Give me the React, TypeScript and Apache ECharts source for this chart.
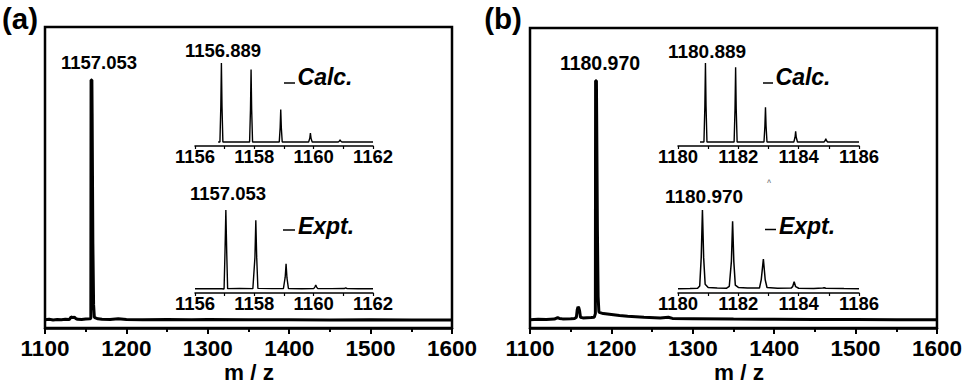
import React, { useEffect, useRef } from "react";
import * as echarts from "echarts";

const FONT = '"Liberation Sans", Arial, Helvetica, sans-serif';

// Main spectra [m/z, relative intensity]
const mainA: number[][] = [
  [1100, 0.4], [1105, 0.6], [1110, 0.3], [1115, 0.5], [1120, 0.4], [1125, 0.6], [1130, 0.5],
  [1132, 1.6], [1134, 1.3], [1136, 1.5], [1138, 0.9], [1140, 0.6], [1145, 0.5], [1150, 0.7],
  [1155, 0.8], [1156.3, 1.0], [1156.6, 100], [1157.6, 100], [1157.9, 86], [1158.5, 86],
  [1158.8, 32], [1159.4, 32], [1159.7, 6.6], [1160.3, 6.6], [1160.6, 1.5], [1162, 1.2], [1165, 0.8],
  [1170, 0.6], [1180, 0.5], [1190, 0.8], [1200, 0.5], [1220, 0.4], [1250, 0.5], [1280, 0.4],
  [1300, 0.5], [1350, 0.4], [1400, 0.4], [1450, 0.3], [1500, 0.4], [1550, 0.3], [1600, 0.3],
];

const mainB: number[][] = [
  [1100, 0.4], [1110, 0.6], [1120, 0.5], [1130, 0.7], [1134, 1.3], [1136, 1.0], [1140, 0.8],
  [1150, 0.9], [1155, 1.0], [1157, 1.5], [1158, 4.5], [1159, 5.8], [1160, 5.4], [1161, 4.0],
  [1162, 1.5], [1165, 1.2], [1170, 1.3], [1175, 1.4], [1179, 1.5], [1180.3, 3], [1180.6, 100],
  [1181.6, 100], [1181.9, 86], [1182.5, 86], [1182.8, 38], [1183.4, 38], [1183.7, 10],
  [1184.3, 10], [1184.6, 4], [1185, 3.5], [1190, 3.0], [1200, 2.6], [1210, 2.2], [1220, 1.9],
  [1240, 1.5], [1260, 1.2], [1270, 1.5], [1275, 1.0], [1300, 0.9], [1350, 0.7], [1400, 0.6],
  [1450, 0.5], [1500, 0.5], [1550, 0.4], [1600, 0.4],
];

// Inset isotope patterns
const calcA: number[][] = [
  [1156.78, 0], [1156.84, 0], [1156.87, 45], [1156.89, 100], [1156.91, 45], [1156.94, 0],
  [1157.84, 0], [1157.87, 41], [1157.89, 91.6], [1157.91, 41], [1157.94, 0],
  [1158.84, 0], [1158.87, 18], [1158.89, 41], [1158.91, 18], [1158.94, 0],
  [1159.83, 0], [1159.87, 5], [1159.89, 11.4], [1159.91, 5], [1159.95, 0],
  [1160.83, 0], [1160.87, 1.3], [1160.89, 3], [1160.91, 1.3], [1160.95, 0], [1162, 0],
];

const exptA: number[][] = [
  [1156, 0.3], [1156.5, 0.5], [1156.9, 0.4], [1156.98, 0], [1157.01, 45], [1157.04, 100],
  [1157.07, 45], [1157.1, 0.5], [1157.5, 0.6], [1157.95, 0.5], [1158.02, 40], [1158.05, 87],
  [1158.08, 40], [1158.12, 0.8], [1158.6, 0.5], [1158.98, 0.6], [1159.04, 15], [1159.07, 32],
  [1159.1, 14], [1159.15, 0.6], [1159.6, 0.4], [1160.0, 0.6], [1160.04, 2.5], [1160.07, 5],
  [1160.1, 2.5], [1160.14, 0.5], [1160.6, 0.5], [1161.03, 0.6], [1161.08, 1.5], [1161.13, 0.5],
  [1161.5, 0.4], [1162, 0.4],
];

const calcB: number[][] = [
  [1180.73, 0], [1180.86, 0], [1180.89, 45], [1180.91, 100], [1180.93, 45], [1180.96, 0],
  [1181.86, 0], [1181.89, 42], [1181.91, 94.4], [1181.93, 42], [1181.96, 0],
  [1182.85, 0], [1182.88, 20], [1182.9, 43.9], [1182.92, 20], [1182.95, 0],
  [1183.84, 0], [1183.88, 6], [1183.9, 13.6], [1183.92, 6], [1183.96, 0],
  [1184.84, 0], [1184.88, 2], [1184.9, 4.3], [1184.92, 2], [1184.96, 0], [1186, 0],
];

const exptB: number[][] = [
  [1180, 0.5], [1180.4, 0.7], [1180.65, 1], [1180.72, 4], [1180.77, 40], [1180.81, 100],
  [1180.85, 40], [1180.9, 6], [1181, 2], [1181.3, 1.2], [1181.6, 1], [1181.7, 3.5],
  [1181.77, 35], [1181.81, 85.6], [1181.85, 35], [1181.9, 5], [1182, 2], [1182.3, 1.2],
  [1182.7, 1.2], [1182.76, 12], [1182.83, 38], [1182.89, 12], [1182.95, 2], [1183.3, 1],
  [1183.75, 1.2], [1183.8, 3], [1183.85, 9.2], [1183.9, 3], [1184, 1], [1184.5, 0.8],
  [1184.8, 1.2], [1184.85, 1.6], [1184.9, 1.1], [1185.5, 0.6], [1186, 0.5],
];

const mainRange = [1100, 1600];
const insetRangeA = [1156, 1162];
const insetRangeB = [1180, 1186];
const axisTitle = "m / z";

const plain = (v: number) => String(v);

function mainX(gridIndex: number) {
  return {
    type: "value",
    gridIndex,
    min: mainRange[0],
    max: mainRange[1],
    interval: 100,
    axisLine: { show: true, onZero: false, lineStyle: { color: "#000", width: 2.5 } },
    axisTick: { show: true, length: 6, lineStyle: { color: "#000", width: 2 } },
    minorTick: { show: true, splitNumber: 2, length: 4, lineStyle: { color: "#000", width: 2 } },
    splitLine: { show: false },
    minorSplitLine: { show: false },
    axisLabel: {
      color: "#000", fontSize: 22.5, fontWeight: "bold", fontFamily: FONT, margin: 9,
      showMinLabel: true, showMaxLabel: true, formatter: plain,
    },
  };
}

function insetX(gridIndex: number, range: number[]) {
  return {
    type: "value",
    gridIndex,
    min: range[0],
    max: range[1],
    interval: 2,
    axisLine: { show: true, onZero: false, lineStyle: { color: "#000", width: 1.5 } },
    axisTick: { show: true, length: 3, lineStyle: { color: "#000", width: 1.2 } },
    minorTick: { show: true, splitNumber: 2, length: 3, lineStyle: { color: "#000", width: 1.2 } },
    splitLine: { show: false },
    minorSplitLine: { show: false },
    axisLabel: {
      color: "#000", fontSize: 18.5, fontWeight: "bold", fontFamily: FONT, margin: 1,
      showMinLabel: true, showMaxLabel: true, formatter: plain,
    },
  };
}

function hiddenY(gridIndex: number, min: number, max: number) {
  return { type: "value", gridIndex, min, max, show: false, splitLine: { show: false } };
}

function line(idx: number, data: number[][], width: number) {
  return {
    type: "line",
    xAxisIndex: idx,
    yAxisIndex: idx,
    data,
    symbol: "none",
    silent: true,
    lineStyle: { color: "#000", width },
  };
}

function txt(text: string, x: number, y: number, size: number, italic = false, color = "#000") {
  return {
    type: "text",
    x,
    y,
    style: {
      text,
      fill: color,
      font: `${italic ? "italic " : ""}bold ${size}px ${FONT}`,
      align: "center",
      verticalAlign: "middle",
    },
  };
}

function dash(x1: number, x2: number, y: number) {
  return { type: "line", shape: { x1, y1: y, x2, y2: y }, style: { stroke: "#000", lineWidth: 1.5 } };
}

export default function App() {
  const ref = useRef<HTMLDivElement>(null);
  useEffect(() => {
    if (!ref.current) return;
    const chart = echarts.init(ref.current, undefined, { renderer: "svg" });
    const frame = { show: true, borderColor: "#000", borderWidth: 2.5, backgroundColor: "transparent" };
    chart.setOption({
      animation: false,
      backgroundColor: "#fff",
      grid: [
        { left: 45, top: 27, width: 407, height: 301, ...frame },
        { left: 530, top: 28, width: 407, height: 300, ...frame },
        { left: 195, top: 55, width: 178, height: 91 },
        { left: 195, top: 202, width: 178, height: 91 },
        { left: 678, top: 55, width: 181, height: 91 },
        { left: 678, top: 202, width: 181, height: 91 },
      ],
      xAxis: [
        mainX(0),
        mainX(1),
        insetX(2, insetRangeA),
        insetX(3, insetRangeA),
        insetX(4, insetRangeB),
        insetX(5, insetRangeB),
      ],
      yAxis: [
        hiddenY(0, -3, 122),
        hiddenY(1, -3, 122),
        hiddenY(2, -5, 110),
        hiddenY(3, -5, 110),
        hiddenY(4, -5, 110),
        hiddenY(5, -5, 110),
      ],
      series: [
        line(0, mainA, 3),
        line(1, mainB, 3),
        line(2, calcA, 1.4),
        line(3, exptA, 1.4),
        line(4, calcB, 1.4),
        line(5, exptB, 1.5),
      ],
      graphic: [
        txt("(a)", 20, 18, 29.5),
        txt("(b)", 503, 18, 29.5),
        txt(axisTitle, 249, 372, 22.5),
        txt(axisTitle, 739, 372, 22.5),
        txt("1157.053", 99, 62, 18.5),
        txt("1180.970", 600, 62.5, 19.5),
        txt("1156.889", 223, 50, 18.5),
        txt("1157.053", 228, 193.5, 18.5),
        txt("1180.889", 707, 51.5, 19),
        txt("1180.970", 704, 196, 19),
        dash(284, 295, 83),
        txt("Calc.", 325, 77, 23, true),
        dash(283, 295, 230),
        txt("Expt.", 326, 226, 23, true),
        dash(763, 773, 83),
        txt("Calc.", 803, 77, 23, true),
        dash(765, 776, 229.5),
        txt("Expt.", 807, 226, 23, true),
        txt("^", 769, 182, 7, false, "#777"),
      ],
    });
    return () => chart.dispose();
  }, []);
  return (
    <div
      ref={ref}
      style={{ position: "absolute", left: 0, top: 0, width: 965, height: 383, background: "#fff" }}
    />
  );
}
